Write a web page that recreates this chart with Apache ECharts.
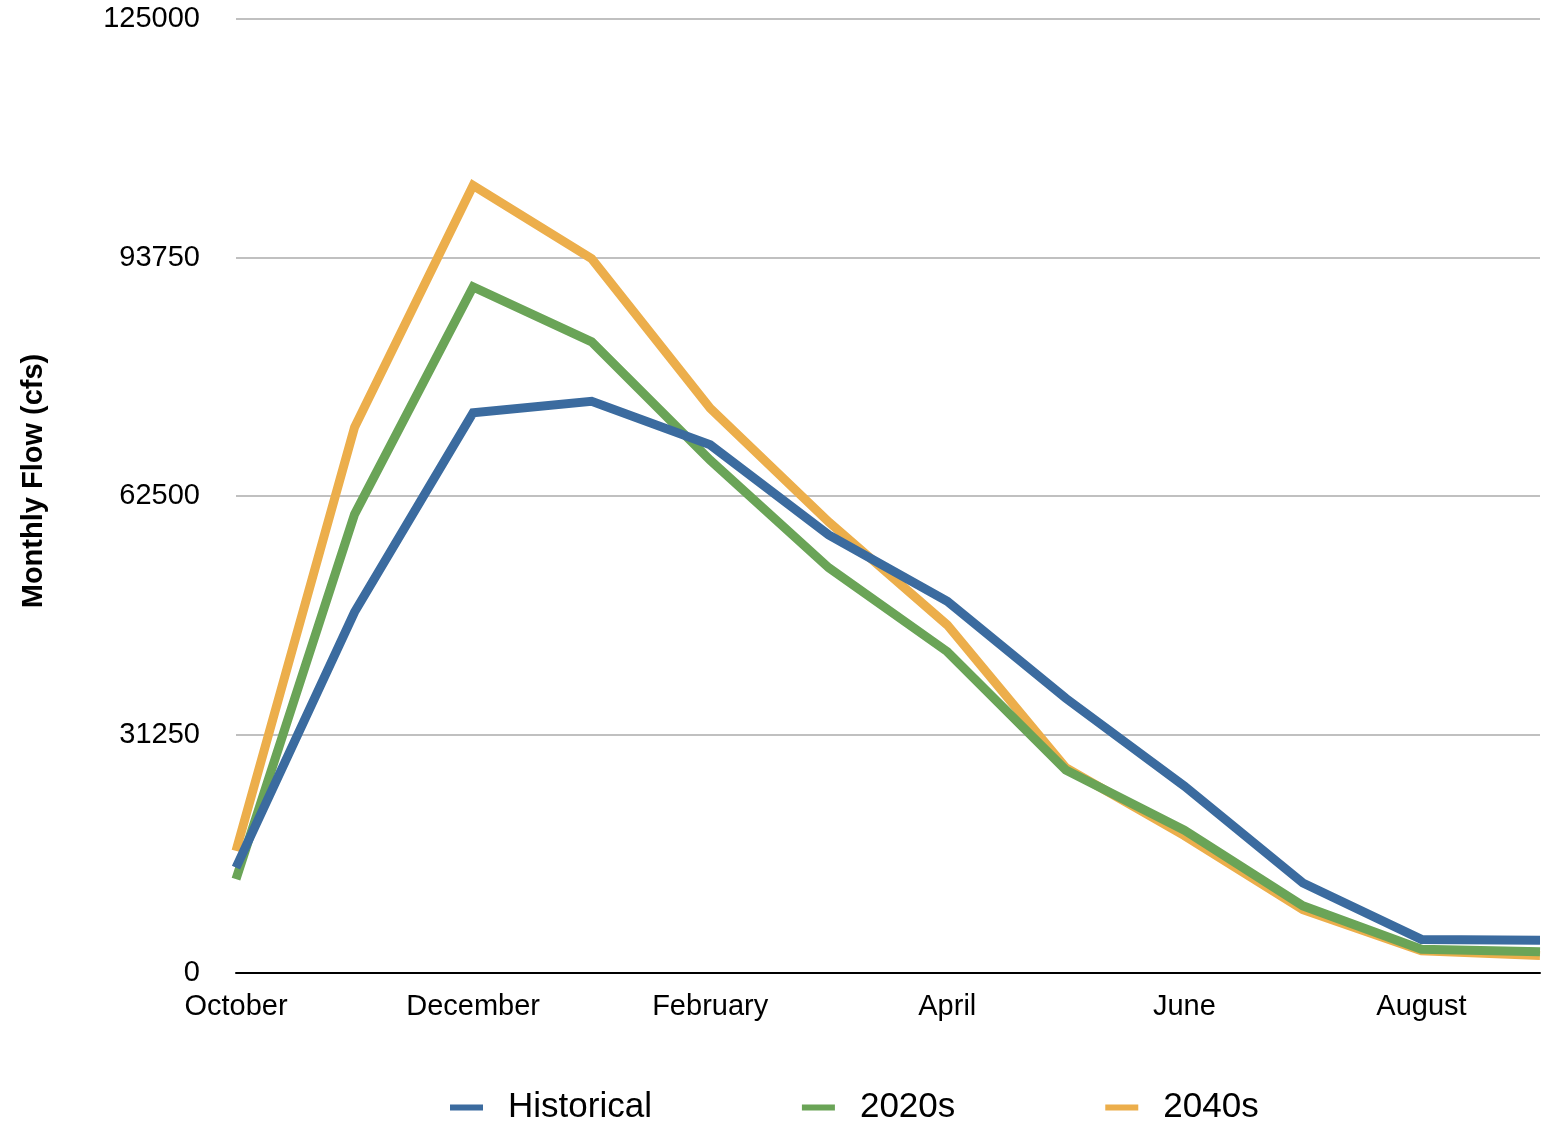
<!DOCTYPE html>
<html>
<head>
<meta charset="utf-8">
<script src="https://cdn.jsdelivr.net/npm/echarts@6/dist/echarts.min.js"></script>
<style>html,body{margin:0;padding:0;background:#fff}#c{width:1542px;height:1126px}</style>
</head>
<body>
<div id="c"></div>
<script>
const months = ['October','November','December','January','February','March','April','May','June','July','August','September'];
const historical = [13800, 47300, 73400, 74900, 69200, 57400, 48700, 36000, 24500, 11800, 4400, 4300];
const s2020 = [12300, 60100, 89900, 82700, 67200, 53100, 42100, 26600, 18700, 8800, 3100, 2800];
const s2040 = [16000, 71500, 103200, 93600, 74000, 59100, 45600, 26900, 18000, 8300, 2900, 2300];
const yTicks = [0, 31250, 62500, 93750, 125000];

const font = '"Liberation Sans", Arial, Helvetica, sans-serif';
const chart = echarts.init(document.getElementById('c'));
function mk(name, data, color, z) {
  return {
    name, type: 'line', data, z,
    symbol: 'none', smooth: false,
    lineStyle: { width: 9, color, cap: 'butt', join: 'miter' },
    itemStyle: { color },
    emphasis: { disabled: true }
  };
}
chart.setOption({
  animation: false,
  backgroundColor: '#fff',
  grid: { left: 236, right: 2, top: 19, bottom: 153, containLabel: false },
  legend: {
    top: 1085, left: 445,
    icon: 'rect', itemWidth: 33, itemHeight: 6, itemGap: 150,
    textStyle: { fontFamily: font, fontSize: 35, color: '#000', padding: [0, 0, 0, 20] },
    data: ['Historical', '2020s', '2040s']
  },
  xAxis: {
    type: 'category', data: months, boundaryGap: false,
    axisLine: { lineStyle: { color: '#000', width: 2 } },
    axisTick: { show: false },
    axisLabel: { interval: 1, color: '#000', fontFamily: font, fontSize: 29, margin: 19 },
    splitLine: { show: false }
  },
  yAxis: {
    type: 'value', min: yTicks[0], max: yTicks[yTicks.length - 1], interval: yTicks[1] - yTicks[0],
    name: 'Monthly Flow (cfs)', nameLocation: 'middle', nameGap: 188, nameRotate: 90,
    nameTextStyle: { fontFamily: font, fontSize: 29, fontWeight: 'bold', color: '#000', padding: [0, 0, 0, 30] },
    axisLine: { show: false }, axisTick: { show: false },
    axisLabel: { color: '#000', fontFamily: font, fontSize: 29, margin: 36, formatter: v => String(v) },
    splitLine: { lineStyle: { color: '#c0c0c0', width: 2 } }
  },
  series: [
    mk('Historical', historical, '#3b6b9f', 5),
    mk('2020s', s2020, '#6aa457', 4),
    mk('2040s', s2040, '#ecae4b', 3)
  ]
});
</script>
</body>
</html>
